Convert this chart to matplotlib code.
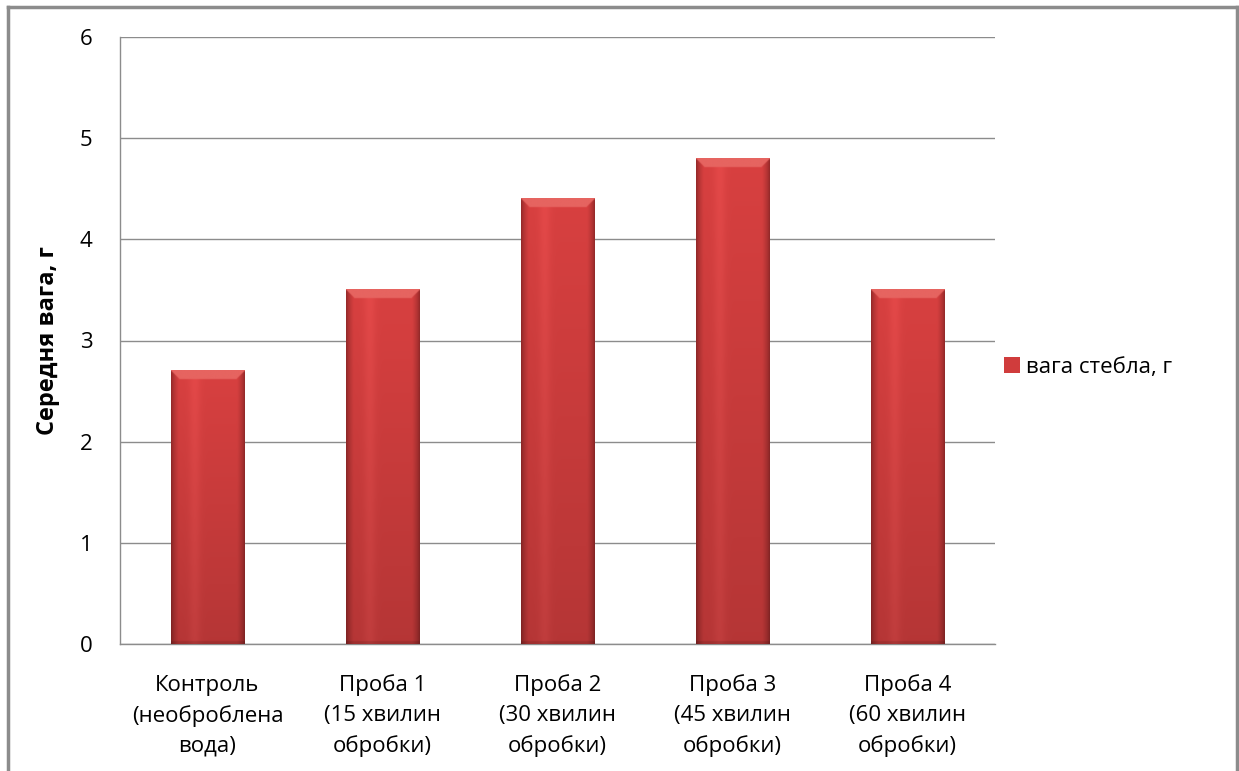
import numpy as np
import matplotlib.pyplot as plt
from matplotlib.lines import Line2D

plt.rcParams['font.family'] = ['Open Sans', 'DejaVu Sans']

# Дані: середня вага стебла за варіантами обробки
kategorii = ["Контроль\n(необроблена\nвода)",
             "Проба 1\n(15 хвилин\nобробки)",
             "Проба 2\n(30 хвилин\nобробки)",
             "Проба 3\n(45 хвилин\nобробки)",
             "Проба 4\n(60 хвилин\nобробки)"]
vaga = [2.7, 3.5, 4.4, 4.8, 3.5]
y_ticks = [0, 1, 2, 3, 4, 5, 6]
nazva_serii = "вага стебла, г"


def tekstura_stovpchyka(nx, ny, top_rows, side_cols):
    """Заливка стовпчика з об'ємним ефектом (як у Excel)."""
    xs = np.linspace(0, 1, nx)
    osn = np.array([216, 64, 64]) / 255.0
    kraj = np.array([150, 42, 42]) / 255.0
    svit = np.array([236, 78, 78]) / 255.0
    img = np.tile(osn, (ny, nx, 1)).astype(float)
    # темні краї
    t = np.clip(np.minimum(xs, 1 - xs) / 0.10, 0, 1) ** 0.7
    for k in range(3):
        img[:, :, k] = kraj[k] + (osn[k] - kraj[k]) * t
    # світла смуга ліворуч від центру
    smuga = 0.6 * np.exp(-((xs - 0.32) / 0.08) ** 2)
    for k in range(3):
        img[:, :, k] = img[:, :, k] + (svit[k] - img[:, :, k]) * smuga
    # вертикальне затемнення донизу
    ys = np.linspace(0, 1, ny)[:, None]
    img *= (1.0 - 0.16 * ys)[:, :, None]
    # верхня фаска
    verh = np.array([230, 100, 96]) / 255.0
    for r in range(top_rows):
        for c in range(nx):
            d = min(c, nx - 1 - c)
            if d >= r * side_cols / max(top_rows, 1):
                img[r, c] = verh
    # нижній край трохи темніший
    img[-3:, :, :] *= 0.88
    return np.clip(img, 0, 1)


fig = plt.figure(figsize=(12.39, 7.71), dpi=100)
ax = fig.add_axes([120 / 1239, 1 - 644 / 771, 875 / 1239, 607 / 771])

x = np.arange(len(kategorii))
bary = ax.bar(x, vaga, width=0.42, color="#d03c3c", zorder=2, label=nazva_serii)

# об'ємна заливка кожного стовпчика
for b in bary:
    bx, bw, bh = b.get_x(), b.get_width(), b.get_height()
    ny = int(bh * 101)
    img = tekstura_stovpchyka(73, ny, 9, 9)
    ax.imshow(img, extent=(bx, bx + bw, 0, bh), aspect='auto',
              zorder=3, interpolation='bicubic')
ax.set_xlim(-0.5, len(kategorii) - 0.5)
ax.set_ylim(0, 6)

ax.set_yticks(y_ticks)
ax.set_xticks(x)
ax.set_xticklabels(kategorii, fontsize=16, linespacing=1.55)
ax.tick_params(axis='y', length=0, pad=20, labelsize=16)
ax.tick_params(axis='x', length=0, pad=22)
ax.grid(axis='y', color='#8c8c8c', linewidth=1.0, zorder=0)
ax.set_axisbelow(True)
for s in ['top', 'right']:
    ax.spines[s].set_visible(False)
for s in ['left', 'bottom']:
    ax.spines[s].set_color('#8c8c8c')
    ax.spines[s].set_linewidth(1.0)

ax.set_ylabel("Середня вага, г", fontsize=17, fontweight='bold', labelpad=14)

leg = fig.legend(handles=[bary], labels=[nazva_serii], loc='center left',
                 bbox_to_anchor=(993 / 1239, 1 - 367 / 771), frameon=False,
                 fontsize=16, handlelength=0.7, handleheight=0.7,
                 handletextpad=0.3, borderpad=0)

# рамка діаграми
ramka = dict(color='#8c8c8c', linewidth=2.5, transform=fig.transFigure)
fig.add_artist(Line2D([8 / 1239, 8 / 1239], [0, 1 - 7 / 771], **ramka))
fig.add_artist(Line2D([8 / 1239, 1237 / 1239], [1 - 7 / 771, 1 - 7 / 771], **ramka))
fig.add_artist(Line2D([1237 / 1239, 1237 / 1239], [0, 1 - 7 / 771], **ramka))

fig.savefig("out.png", dpi=100)
